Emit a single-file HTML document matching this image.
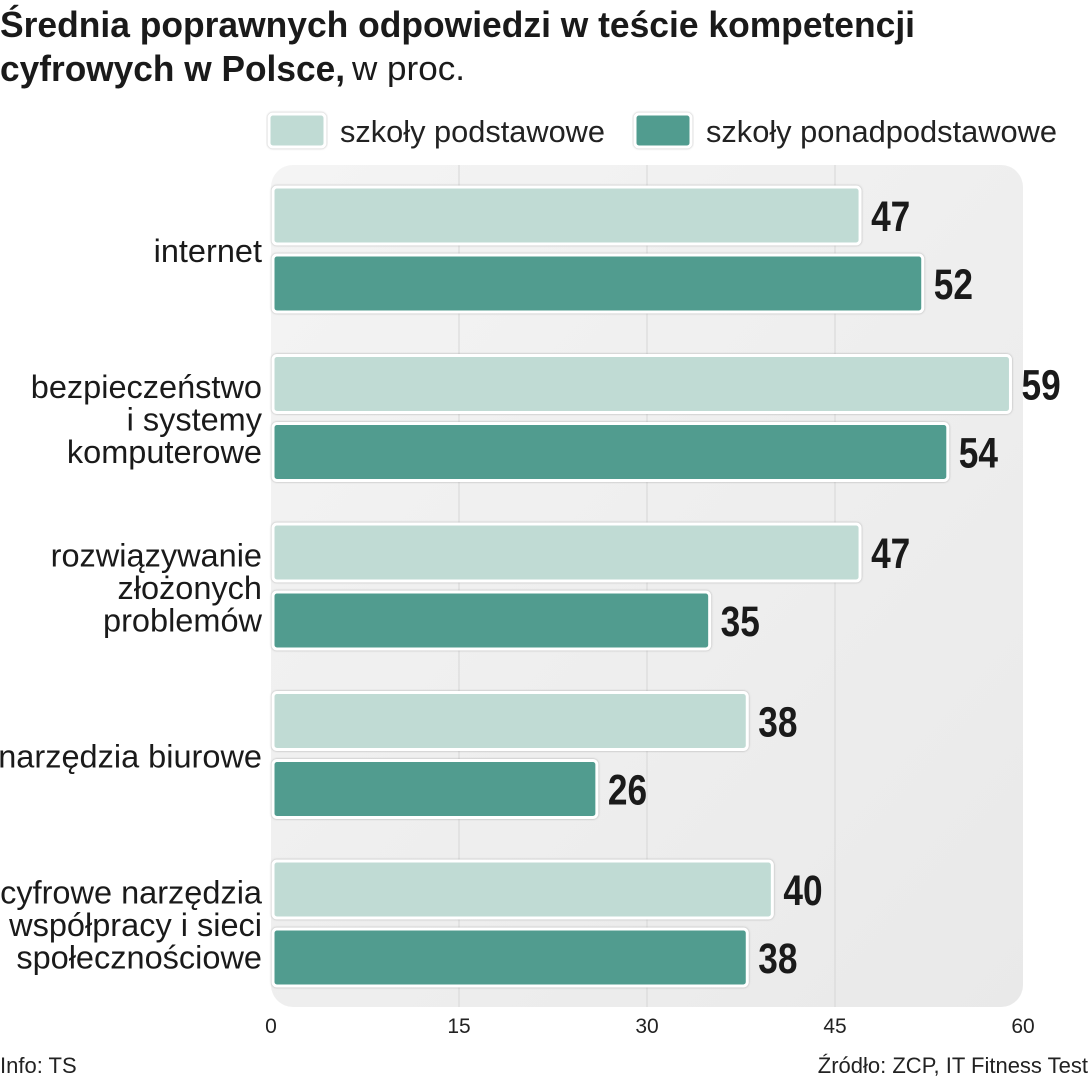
<!DOCTYPE html>
<html><head><meta charset="utf-8"><style>
body{margin:0;background:#fff}
svg{display:block}
</style></head><body>
<svg id="chart" width="1090" height="1080" viewBox="0 0 1090 1080">
<defs>
<linearGradient id="bg" x1="0" y1="0" x2="1" y2="1"><stop offset="0" stop-color="#f4f4f4"/><stop offset="1" stop-color="#e9e9e9"/></linearGradient>
<filter id="sh" x="-5%" y="-20%" width="110%" height="140%"><feDropShadow dx="0" dy="0" stdDeviation="1" flood-color="#888" flood-opacity="0.7"/></filter>
</defs>
<text x="0" y="37" font-family="Liberation Sans" font-size="36" font-weight="bold" fill="#1a1a1a" textLength="915" lengthAdjust="spacingAndGlyphs">Średnia poprawnych odpowiedzi w teście kompetencji</text>
<text x="0" y="81" font-family="Liberation Sans" font-size="36" font-weight="bold" fill="#1a1a1a" textLength="345" lengthAdjust="spacingAndGlyphs">cyfrowych w Polsce,</text>
<text x="352" y="80" font-family="Liberation Sans" font-size="34" fill="#1a1a1a" textLength="113" lengthAdjust="spacingAndGlyphs">w proc.</text>
<g>
<rect x="269" y="114" width="56" height="33" rx="4" fill="#c0dbd4" stroke="#fff" stroke-width="3" filter="url(#sh)"/>
<text x="340" y="142" font-family="Liberation Sans" font-size="31" fill="#222" textLength="265" lengthAdjust="spacingAndGlyphs">szkoły podstawowe</text>
<rect x="635" y="114" width="56" height="33" rx="4" fill="#519c8f" stroke="#fff" stroke-width="3" filter="url(#sh)"/>
<text x="706" y="142" font-family="Liberation Sans" font-size="31" fill="#222" textLength="351" lengthAdjust="spacingAndGlyphs">szkoły ponadpodstawowe</text>
</g>
<rect x="271" y="165" width="752" height="842" rx="22" fill="url(#bg)"/>
<g id="grid"></g><g id="bars"></g><g id="labels"></g><g id="ticks"></g>
<text x="0" y="1073" font-family="Liberation Sans" font-size="22" fill="#222">Info: TS</text>
<text x="1088" y="1073" text-anchor="end" font-family="Liberation Sans" font-size="22" fill="#222">Źródło: ZCP, IT Fitness Test</text>
</svg>
<script>
const categories=[["internet"],["bezpieczeństwo","i systemy","komputerowe"],["rozwiązywanie","złożonych","problemów"],["narzędzia biurowe"],["cyfrowe narzędzia","współpracy i sieci","społecznościowe"]];
const podstawowe=[47,59,47,38,40];
const ponadpodstawowe=[52,54,35,26,38];
const tickValues=[0,15,30,45,60];
const NS="http://www.w3.org/2000/svg";
const x0=271,x1=1023,vmax=60;
const xs=v=>x0+(x1-x0)*v/vmax;
const groupTop=i=>187+i*168.5;
function mk(tag,attrs,parent,text){const e=document.createElementNS(NS,tag);for(const k in attrs)e.setAttribute(k,attrs[k]);if(text!==undefined)e.textContent=text;parent.appendChild(e);return e;}
const grid=document.getElementById('grid'),bars=document.getElementById('bars'),labels=document.getElementById('labels'),ticks=document.getElementById('ticks');
tickValues.forEach((t,i)=>{
  if(t>0&&t<vmax){const l=mk('line',{x1:xs(t),x2:xs(t),y1:165,y2:1007,stroke:'#d6d6d6','stroke-width':1},grid);
  
  }
  const tx=mk('text',{x:xs(t),y:1033,'text-anchor':'middle','font-family':'Liberation Sans','font-size':21,fill:'#222'},ticks,String(t));
  
  
});
const series=[[podstawowe,'#c0dbd4','podstawowe',0],[ponadpodstawowe,'#519c8f','ponadpodstawowe',68]];
categories.forEach((cat,i)=>{
  const top=groupTop(i);
  series.forEach(([arr,col,nm,off])=>{
    const y=top+off,v=arr[i];
    const r=mk('rect',{x:x0+2,y:y,width:xs(v)-x0-2,height:57,rx:4,fill:col,stroke:'#fff','stroke-width':3,filter:'url(#sh)'},bars);
    
    
    const t=mk('text',{x:0,y:0,transform:'translate('+(xs(v)+11)+','+(y+44)+') scale(0.82,1)','font-family':'Liberation Sans','font-size':43,'font-weight':'bold',fill:'#1a1a1a'},labels,String(v));
    
    
  });
  const cy=top+64,n=cat.length;
  cat.forEach((line,j)=>{
    const t=mk('text',{x:262,y:cy+11+(j-(n-1)/2)*32.5,'text-anchor':'end','font-family':'Liberation Sans','font-size':32.5,fill:'#1a1a1a'},labels,line);
    
    
  });
});
</script>
</body></html>
